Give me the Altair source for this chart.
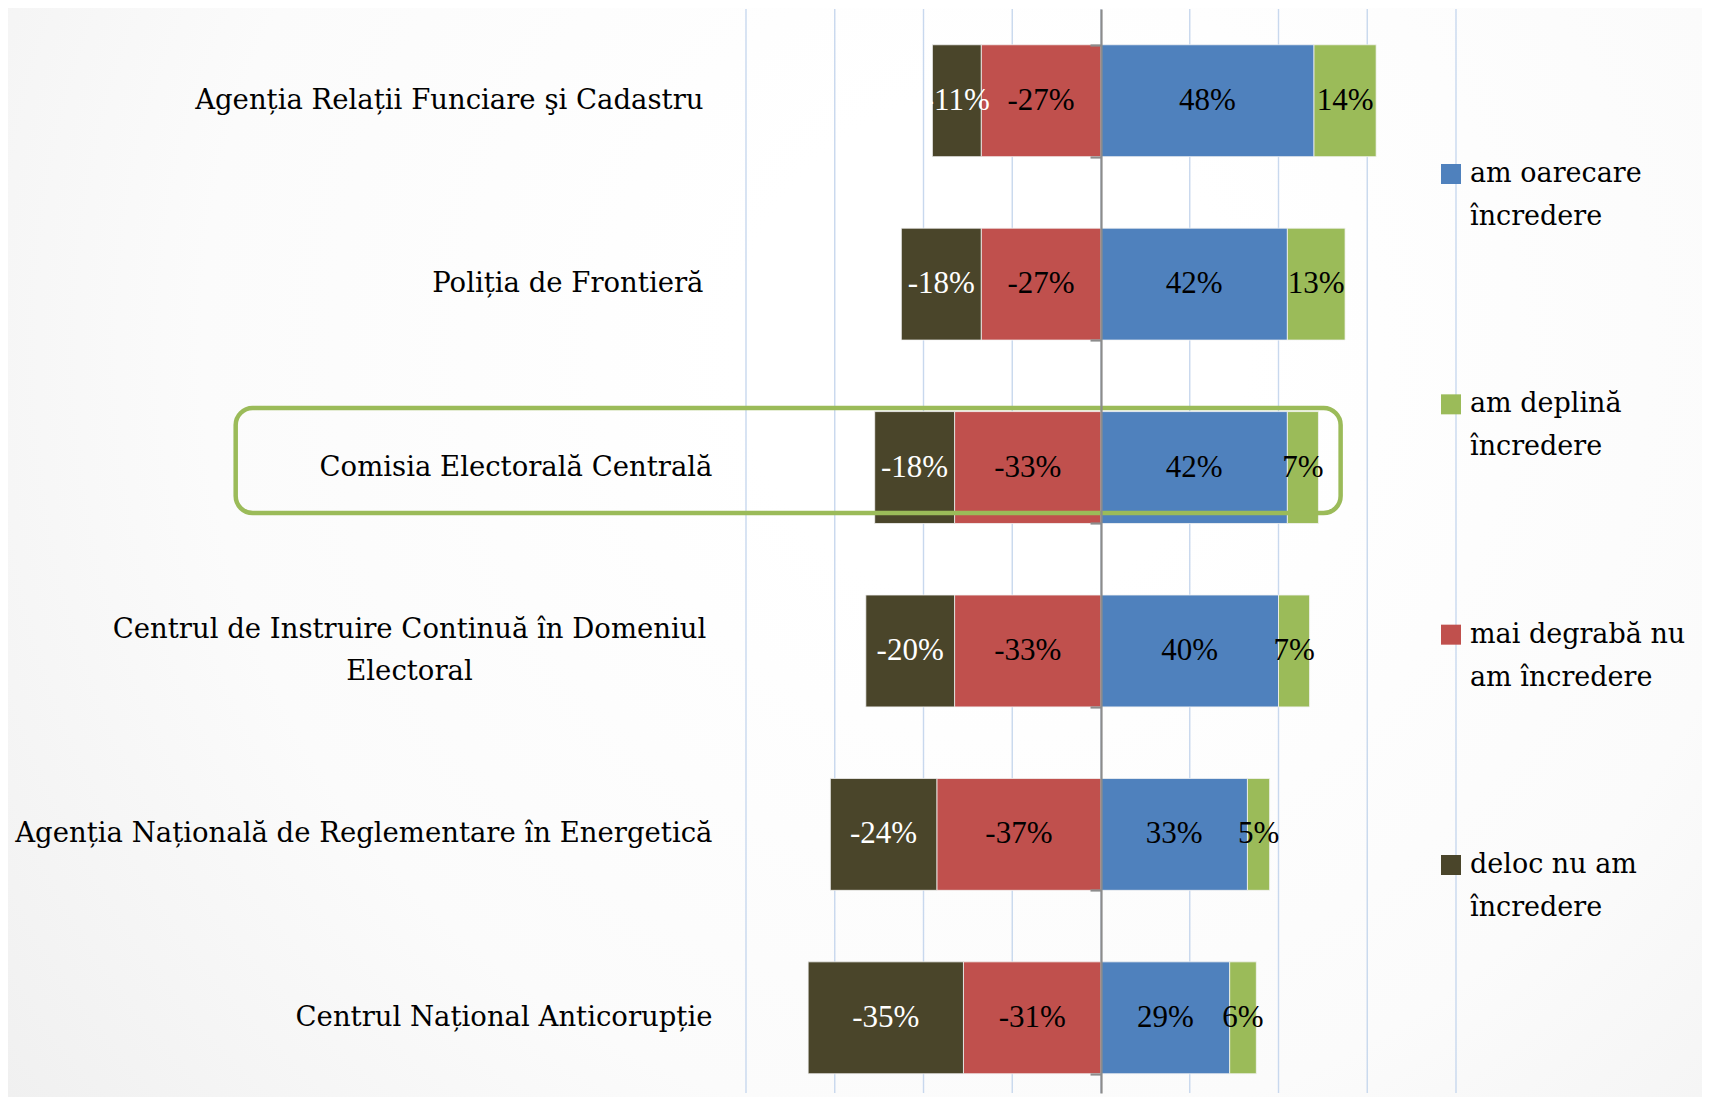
import altair as alt
import pandas as pd

# ---------------- data ----------------
categories = [
    "Agenția Relații Funciare şi Cadastru",
    "Poliția de Frontieră",
    "Comisia Electorală Centrală",
    "Centrul de Instruire Continuă în Domeniul|Electoral",
    "Agenția Națională de Reglementare în Energetică",
    "Centrul Național Anticorupție",
]
series = [
    "am oarecare încredere",
    "am deplină încredere",
    "mai degrabă nu am încredere",
    "deloc nu am încredere",
]
colors = ["#4f81bd", "#9bbb59", "#c0504d", "#4a452a"]

am_oarecare = [48, 42, 42, 40, 33, 29]
am_deplina = [14, 13, 7, 7, 5, 6]
mai_degraba_nu = [-27, -27, -33, -33, -37, -31]
deloc_nu = [-11, -18, -18, -20, -24, -35]

legend_line1 = ["am oarecare", "am deplină", "mai degrabă nu", "deloc nu am"]
legend_line2 = ["încredere", "încredere", "am încredere", "încredere"]

highlight_category = "Comisia Electorală Centrală"
highlight_from = -195
highlight_to = 54

x_ticks = [-80, -60, -40, -20, 0, 20, 40, 60, 80]

# ---------------- tables ----------------
values_by_series = [am_oarecare, am_deplina, mai_degraba_nu, deloc_nu]
rows = []
for si, (s, vals) in enumerate(zip(series, values_by_series)):
    for c, v in zip(categories, vals):
        rows.append({"cat": c, "series": s, "value": v, "ord": si})
df = pd.DataFrame(rows)

legend_df = pd.DataFrame({
    "series": series,
    "l1": legend_line1,
    "l2": legend_line2,
    "pos": list(range(len(series))),
})
box_df = pd.DataFrame({"cat": [highlight_category], "x0": [highlight_from], "x1": [highlight_to]})
grid_df = pd.DataFrame({"x": x_ticks})

# ---------------- layout ----------------
W, H = 710, 1084
PAD_L, PAD_T, PAD_B = 738, 1, 4
TOTAL_W = 1694
PAD_R = TOTAL_W - PAD_L - W

xscale = alt.Scale(domain=[x_ticks[0], x_ticks[-1]], nice=False, zero=False)
yscale = alt.Scale(domain=categories, paddingInner=0.39, paddingOuter=0.15, align=0.65)
cscale = alt.Scale(domain=series, range=colors)

multiline = "indexof(datum.value, '|') >= 0"
first_two = "indexof(['%s', '%s'], datum.value) >= 0" % (categories[0], categories[1])

base = alt.Chart(df).transform_stack(
    stack="value",
    groupby=["cat"],
    sort=[alt.SortField("ord", order="ascending")],
    as_=["v0", "v1"],
).transform_calculate(
    mid="(datum.v0 + datum.v1) / 2",
    lbl="datum.value + '%'",
)

grid = alt.Chart(grid_df).mark_rule(color="#c8d8ee", strokeWidth=1.4).encode(
    x=alt.X("x:Q", scale=xscale, axis=None)
)

bars = base.mark_bar(stroke="#f4f4f4", strokeWidth=0.8).encode(
    x=alt.X("v0:Q", scale=xscale, axis=None),
    x2="v1:Q",
    y=alt.Y(
        "cat:N",
        sort=categories,
        scale=yscale,
        axis=alt.Axis(
            orient="left",
            title=None,
            domain=False,
            ticks=False,
            grid=False,
            zindex=1,
            labelFont="DejaVu Serif",
            labelFontSize=27.5,
            labelColor="#000000",
            labelLimit=0,
            labelExpr="split(datum.label, '|')",
            labelLineHeight=42,
            labelAlign=alt.condition(multiline, alt.value("center"), alt.value("right")),
            labelOffset=alt.condition(multiline, alt.value(-21), alt.value(0)),
            labelPadding={
                "condition": [
                    {"test": multiline, "value": 337},
                    {"test": first_two, "value": 43},
                ],
                "value": 34,
            },
        ),
    ),
    color=alt.Color("series:N", scale=cscale, legend=None),
)

texts = base.mark_text(font="Liberation Serif", fontSize=31, baseline="middle").encode(
    x=alt.X("mid:Q", scale=xscale, axis=None),
    y=alt.Y(
        "cat:N",
        sort=categories,
        scale=yscale,
        axis=alt.Axis(
            orient="left",
            offset=-W / 2,
            title=None,
            labels=False,
            ticks=True,
            tickBand="extent",
            tickSize=11,
            tickColor="#8c8c8c",
            tickWidth=2.2,
            domain=True,
            domainColor="#8c8c8c",
            domainWidth=2.2,
            grid=False,
            zindex=1,
        ),
    ),
    text="lbl:N",
    color=alt.condition(
        alt.datum.series == series[3], alt.value("#ffffff"), alt.value("#000000")
    ),
)

box = alt.Chart(box_df).mark_bar(
    fill="transparent",
    stroke="#9bbb59",
    strokeWidth=4.5,
    cornerRadius=17,
    size=105,
    yOffset=-7,
).encode(
    x=alt.X("x0:Q", scale=xscale, axis=None),
    x2="x1:Q",
    y=alt.Y("cat:N", sort=categories, scale=yscale, axis=None),
)

main = alt.layer(grid, bars, texts, box).resolve_axis(y="independent")

# background (slide-like soft radial gradient)
bg = alt.Chart(pd.DataFrame({"a": [0]})).mark_rect(
    color=alt.RadialGradient(
        gradient="radial",
        x1=0.58, y1=0.38, r1=0.15,
        x2=0.58, y2=0.38, r2=0.85,
        stops=[
            alt.GradientStop(color="#ffffff", offset=0),
            alt.GradientStop(color="#fbfbfb", offset=0.45),
            alt.GradientStop(color="#ebebeb", offset=1),
        ],
    )
).encode(
    x=alt.value(-PAD_L),
    x2=alt.value(TOTAL_W - PAD_L),
    y=alt.value(-PAD_T),
    y2=alt.value(H + PAD_B),
)

# custom legend (two-line entries, like the original)
lscale = alt.Scale(domain=[0, 3], range=[165, 856])
leg_base = alt.Chart(legend_df)
leg_sq = leg_base.mark_square(size=400, opacity=1).encode(
    x=alt.value(705),
    y=alt.Y("pos:Q", scale=lscale, axis=None),
    color=alt.Color("series:N", scale=cscale, legend=None),
)
leg_t1 = leg_base.mark_text(
    align="left", baseline="middle", font="DejaVu Serif", fontSize=27, color="#000000"
).encode(
    x=alt.value(724),
    y=alt.Y("pos:Q", scale=lscale, axis=None),
    text="l1:N",
)
leg_t2 = leg_base.mark_text(
    align="left", baseline="middle", font="DejaVu Serif", fontSize=27, color="#000000", dy=43
).encode(
    x=alt.value(724),
    y=alt.Y("pos:Q", scale=lscale, axis=None),
    text="l2:N",
)

chart = (
    alt.layer(bg, main, leg_sq, leg_t1, leg_t2)
    .resolve_scale(y="independent", color="shared")
    .properties(
        width=W,
        height=H,
        autosize=alt.AutoSizeParams(type="none"),
        padding={"left": PAD_L, "top": PAD_T, "right": PAD_R, "bottom": PAD_B},
        background="#ffffff",
    )
    .configure_view(strokeWidth=0)
)

chart.save("out.html", embed_options={"renderer": "svg", "actions": False})
